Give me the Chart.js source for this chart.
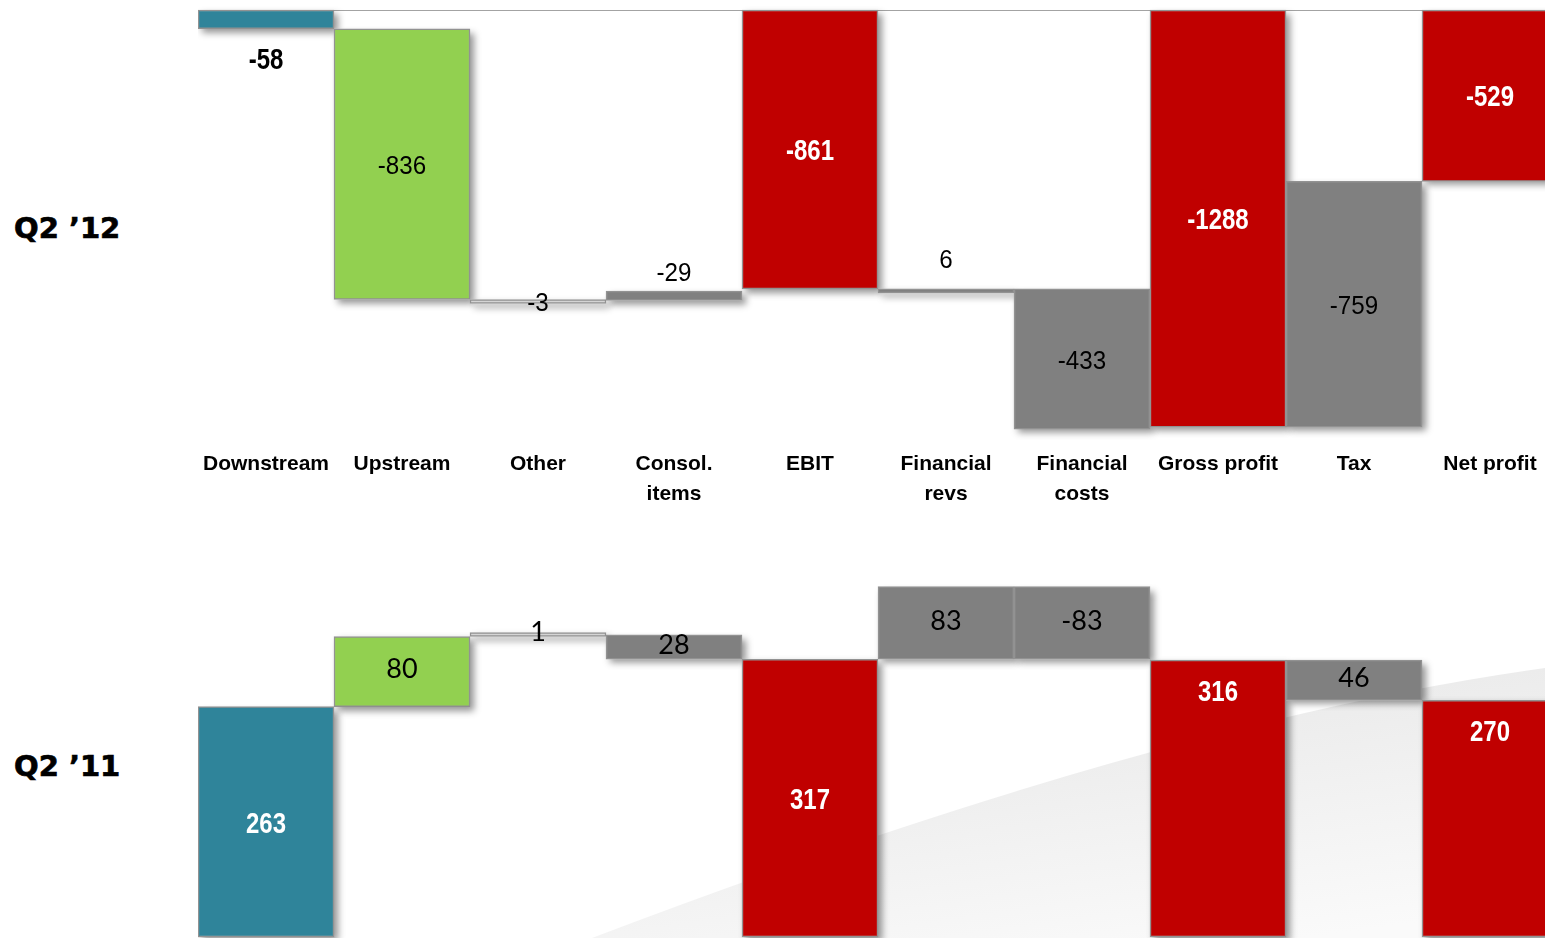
<!DOCTYPE html>
<html>
<head>
<meta charset="utf-8">
<script src="https://cdn.jsdelivr.net/npm/chart.js@4.4.1/dist/chart.umd.min.js"></script>
<style>
  html, body { margin: 0; padding: 0; width: 1545px; height: 938px; overflow: hidden; background: #fff; }
  #backdrop { position: absolute; left: 0; top: 0; }
  .period { position: absolute; left: 14px; font: bold 29px "DejaVu Sans", sans-serif; line-height: 1; color: #000;
            white-space: nowrap; -webkit-text-stroke: 0.7px #000; }
  .panel { position: absolute; left: 198px; width: 1360px; }
</style>
</head>
<body>
<svg id="backdrop" width="1545" height="938">
  <defs>
    <linearGradient id="swoosh" x1="0.25" y1="0" x2="0.75" y2="1">
      <stop offset="0" stop-color="#e6e6e6"/>
      <stop offset="1" stop-color="#fafafa"/>
    </linearGradient>
  </defs>
  <path d="M 592 938 Q 1165 720 1545 668 L 1545 938 Z" fill="url(#swoosh)"/>
</svg>

<div class="period" style="top:214px">Q2 ’12</div>
<div class="period" style="top:752px">Q2 ’11</div>

<div class="panel" style="top:0; height:530px"><canvas id="q212" width="1360" height="530"></canvas></div>
<div class="panel" style="top:560px; height:378px"><canvas id="q211" width="1360" height="378"></canvas></div>

<script>
// Bridge categories, shared by both quarters
const categories = ['Downstream', 'Upstream', 'Other', ['Consol.', 'items'], 'EBIT',
                    ['Financial', 'revs'], ['Financial', 'costs'], 'Gross profit', 'Tax', 'Net profit'];

// Q2 '12: step values and the lower edge each step sits on
const q212Values = [-58, -836, -3, -29, -861, 6, -433, -1288, -759, -529];
const q212Floor  = [-58, -894, -897, -897, -861, -867, -1294, -1288, -1288, -529];

// Q2 '11: step values and the lower edge each step sits on
const q211Values = [263, 80, 1, 28, 317, 83, -83, 316, 46, 270];
const q211Floor  = [0, 263, 343, 317, 0, 317, 317, 0, 270, 0];

// Subtotal columns get the heavy label style
const subtotal = [true, false, false, false, true, false, false, true, false, true];

const barColors = ['#2F849A', '#92D050', '#d4d4d4', '#808080', '#C00000',
                   '#808080', '#808080', '#C00000', '#808080', '#C00000'];

// where each value label sits relative to its bar: [anchor, pixel offset]
const q212Placement = [['below', 29], ['center', 0], ['center', 0], ['above', 20], ['center', 0],
                       ['above', 31], ['center', 0], ['center', 0], ['center', 0], ['center', 0]];
const q211Placement = [['center', 0], ['center', 0], ['center', 0], ['center', 0], ['center', 0],
                       ['center', 0], ['center', 0], ['insideTop', 30], ['center', 0], ['insideTop', 30]];

const spans = (values, floors) => values.map((v, i) => [floors[i], floors[i] + Math.abs(v)]);

// soft drop shadow behind every bar
const barShadow = {
  id: 'barShadow',
  beforeDatasetsDraw(chart) {
    const ctx = chart.ctx;
    chart.getDatasetMeta(0).data.forEach(bar => {
      const {x, y, base, width} = bar.getProps(['x', 'y', 'base', 'width'], true);
      const top = Math.min(y, base), h = Math.max(Math.abs(base - y), 4);
      ctx.save();
      ctx.shadowColor = 'rgba(0,0,0,0.42)';
      ctx.shadowBlur = 7;
      ctx.shadowOffsetX = 4;
      ctx.shadowOffsetY = 4;
      ctx.fillStyle = '#ffffff';
      ctx.fillRect(x - width / 2, top, width, h);
      ctx.restore();
    });
  }
};

// thin reference line at zero
const zeroLine = {
  id: 'zeroLine',
  beforeDatasetsDraw(chart) {
    const {ctx, chartArea, scales} = chart;
    const y0 = Math.round(scales.y.getPixelForValue(0)) + 0.5;
    ctx.save();
    ctx.strokeStyle = '#a3a3a3';
    ctx.lineWidth = 1;
    ctx.beginPath();
    ctx.moveTo(chartArea.left, y0);
    ctx.lineTo(chartArea.right, y0);
    ctx.stroke();
    ctx.restore();
  }
};

// value labels; regular/heavy faces each carry their own baseline nudge
function valueLabels(values, placement, regular) {
  const heavy = { font: 'bold 30px "Liberation Sans", Arial, sans-serif', sx: 0.8, dy: 2.5 };
  return {
    id: 'valueLabels',
    afterDatasetsDraw(chart) {
      const ctx = chart.ctx;
      chart.getDatasetMeta(0).data.forEach((bar, i) => {
        const {x, y, base} = bar.getProps(['x', 'y', 'base'], true);
        const top = Math.min(y, base), bottom = Math.max(y, base);
        const [at, off] = placement[i];
        let cy = (top + bottom) / 2;
        if (at === 'below') cy = bottom + off;
        else if (at === 'above') cy = top - off;
        else if (at === 'insideTop') cy = top + off;
        const strong = subtotal[i];
        const face = strong ? heavy : regular;
        const inside = at === 'center' || at === 'insideTop';
        ctx.save();
        ctx.translate(x, cy + face.dy);
        ctx.scale(face.sx, 1);
        ctx.font = face.font;
        ctx.fillStyle = strong && inside ? '#ffffff' : '#000000';
        ctx.textAlign = 'center';
        ctx.textBaseline = 'middle';
        ctx.fillText(String(values[i]), 0, 0);
        ctx.restore();
      });
    }
  };
}

function dataset(values, floors) {
  return {
    data: spans(values, floors),
    backgroundColor: barColors,
    borderColor: 'rgba(140,140,140,0.95)',
    borderWidth: 1.5,
    borderSkipped: false,
    categoryPercentage: 1,
    barPercentage: 1,
    minBarLength: 4,
    clip: false
  };
}

const common = {
  responsive: false,
  animation: false,
  events: [],
  plugins: { legend: { display: false }, tooltip: { enabled: false } }
};

new Chart(document.getElementById('q212'), {
  type: 'bar',
  data: { labels: categories, datasets: [dataset(q212Values, q212Floor)] },
  options: Object.assign({}, common, {
    layout: { padding: { top: 10, bottom: 9, left: 0, right: 0 } },
    scales: {
      x: {
        grid: { display: false, drawTicks: false },
        border: { display: false },
        ticks: {
          color: '#000',
          padding: 18,
          maxRotation: 0,
          autoSkip: false,
          font: { family: '"Liberation Sans", Arial, sans-serif', size: 21, weight: 'bold', lineHeight: '30px' }
        },
        // fixed band for the category names; bars run edge to edge
        afterFit(scale) {
          scale.height = 90;
          scale.paddingLeft = 0;
          scale.paddingRight = 0;
        }
      },
      y: { display: false, min: -1300, max: 0 }
    }
  }),
  plugins: [zeroLine, barShadow,
            valueLabels(q212Values, q212Placement, { font: '26px "Liberation Sans", Arial, sans-serif', sx: 0.93, dy: 2.5 })]
});

new Chart(document.getElementById('q211'), {
  type: 'bar',
  data: { labels: categories, datasets: [dataset(q211Values, q211Floor)] },
  options: Object.assign({}, common, {
    layout: { padding: { top: 9, bottom: 1, left: 0, right: 0 } },
    scales: {
      x: { display: false },
      y: { display: false, min: 0, max: 420 }
    }
  }),
  plugins: [barShadow,
            valueLabels(q211Values, q211Placement, { font: '27px Lato, "Open Sans", sans-serif', sx: 1, dy: -2 })]
});
</script>
</body>
</html>
